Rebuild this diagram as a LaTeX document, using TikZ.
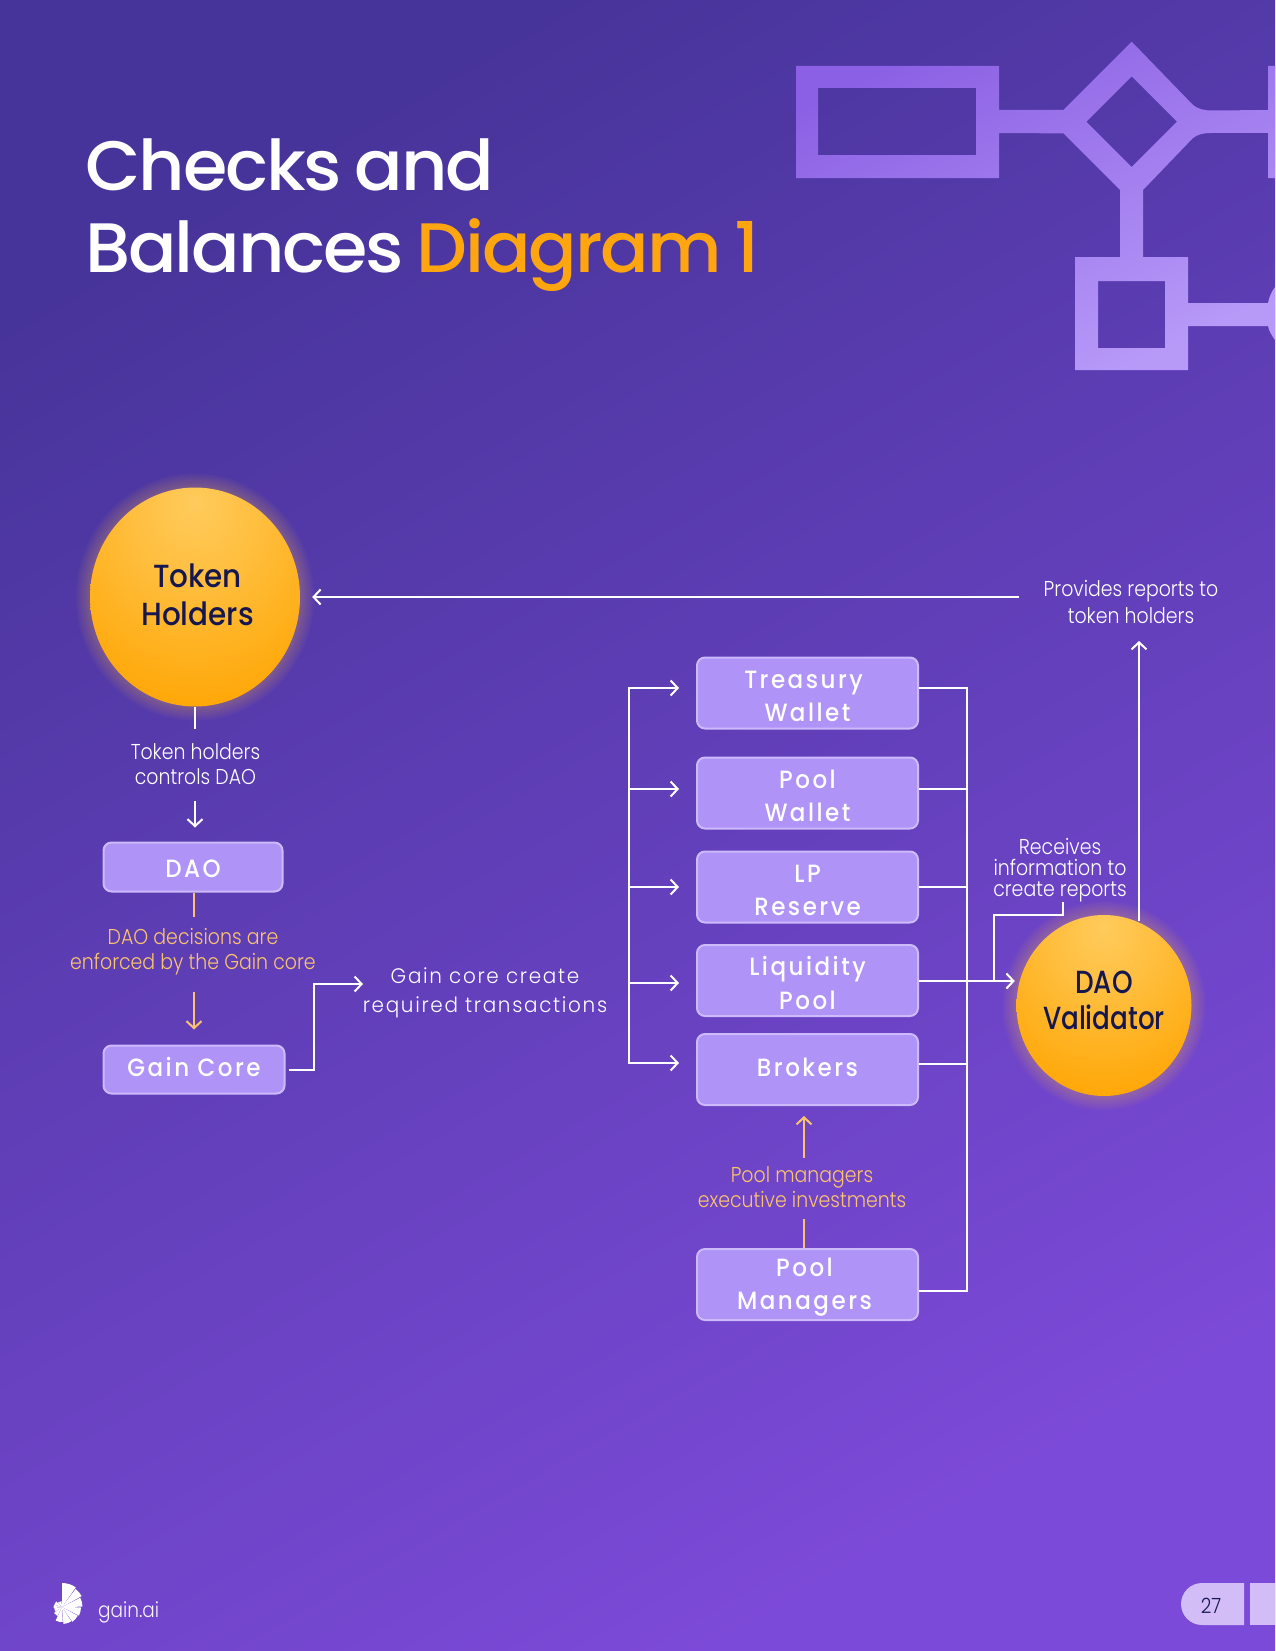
\documentclass[tikz,border=0pt]{standalone}
\usepackage{fontspec}
\usepackage{xcolor}
\usepackage{tikz}
\usetikzlibrary{calc,arrows.meta,shapes.geometric}

\setmainfont[FakeStretch=0.88]{Poppins Light}
\newfontfamily\titlefont[LetterSpace=-3,FakeStretch=1.025,WordSpace=0.75]{Poppins Medium}
\newfontfamily\boxfont[LetterSpace=10,FakeStretch=0.92]{Poppins Medium}
\newfontfamily\orbfont[FakeStretch=0.92]{Poppins Medium}
\newfontfamily\orbslim[FakeStretch=0.82]{Poppins Medium}
\newfontfamily\widefont[LetterSpace=8,FakeStretch=0.95]{Poppins Light}
\newcommand{\boxstrut}{\rule{0pt}{24pt}}

\definecolor{bgdark}{HTML}{47349A}
\definecolor{bglight}{HTML}{7C4AD8}
\definecolor{glyphdark}{HTML}{8C60E4}
\definecolor{glyphlight}{HTML}{B79AF8}
\definecolor{boxfill}{HTML}{B093F6}
\definecolor{boxedge}{HTML}{CDBAFB}
\definecolor{titleorange}{HTML}{FFA50F}
\definecolor{noteyellow}{HTML}{FBC36D}
\definecolor{orbink}{HTML}{17174F}
\definecolor{orblight}{HTML}{FFCB5C}
\definecolor{orbdeep}{HTML}{FFA400}
\definecolor{pagepill}{HTML}{D2BDF6}

\pgfdeclareradialshading{orbshade}{\pgfpoint{0bp}{22bp}}{%
  color(0bp)=(orblight); color(14bp)=(orblight!70!orbdeep);
  color(42bp)=(orbdeep); color(100bp)=(orbdeep)}

\begin{document}
\begin{tikzpicture}[x=1pt,y=-1pt,
            labeltext/.style={align=center,inner sep=0pt,text=white,
                font=\fontsize{21.5}{25}\selectfont},
            notetext/.style={labeltext,text=noteyellow},
            stepbox/.style={rectangle,draw=boxedge,line width=2pt,fill=boxfill,rounded corners=8pt,
                align=center,text=white,inner sep=0pt,font=\boxfont\fontsize{25}{33.5}\selectfont},
            orb/.style={ellipse,shading=orbshade,inner sep=0pt,align=center,text=orbink,
                font=\orbfont\fontsize{32}{38}\selectfont},
            flow/.style={draw=white,line width=2pt,>={Straight Barb[length=7pt,width=15pt,line width=2pt]}},
            noteflow/.style={flow,draw=noteyellow}]

        % page
        \useasboundingbox (0,0) rectangle (1275,1651);
        \shade [top color=bgdark, bottom color=bglight, shading angle=30] (0,0) rectangle (1275,1651);

        % flowchart motif, top right
        \shade [even odd rule, top color=glyphdark, bottom color=glyphlight, shading angle=25]
            (796,66) -- (999,66) -- (999,110) -- (1063.4,110) -- (1131.7,41.7) -- (1193,105)
            .. controls (1198,109) and (1204,110.5) .. (1212,110.5) -- (1268,110) -- (1268,66) -- (1275,66)
            -- (1275,178) -- (1268,178) -- (1268,133) -- (1212,133)
            .. controls (1204,133) and (1198,134) .. (1193,138) -- (1143,190) -- (1143,257) -- (1188,257)
            -- (1188,303) -- (1268,303) .. controls (1269,297) and (1272,291) .. (1275,287) -- (1275,340)
            .. controls (1272,336) and (1269,331) .. (1268,326) -- (1188,326) -- (1188,370) -- (1075,370)
            -- (1075,257) -- (1120,257) -- (1120,190) -- (1063.4,133.4) -- (999,133) -- (999,178) -- (796,178) -- cycle
            (818,88) rectangle (976,155)
            (1131.7,76.4) -- (1177,121.7) -- (1131.7,167) -- (1086.4,121.7) -- cycle
            (1098,281) rectangle (1165,348);

        % title
        \node [anchor=base west, inner sep=0pt, text=white, font=\titlefont\fontsize{70}{80}\selectfont] (titleA) at (85,190) {Checks and};
        \node [anchor=base west, inner sep=0pt, text=white, font=\titlefont\fontsize{70}{80}\selectfont] (titleB) at (85,272) {Balances \textcolor{titleorange}{Diagram 1}};

        % glow under the two orbs
        \foreach \g in {14,12,...,2} {
            \fill [orbdeep!70!white, opacity=0.04] (195,597) ellipse [x radius=105+\g, y radius=109.5+\g];
            \fill [orbdeep!70!white, opacity=0.04] (1104,1005.5) ellipse [x radius=87.5+\g, y radius=90.5+\g];
        }

        \node [orb, minimum width=210pt, minimum height=219pt] at (195,597) (token) {\hspace*{5pt}Token\\\hspace*{5pt}Holders\rule[-4pt]{0pt}{0pt}};
        \node [orb, minimum width=175pt, minimum height=181pt, font=\orbslim\fontsize{32}{36}\selectfont] at (1104,1005.5) (validator) {DAO\\Validator\rule[-10pt]{0pt}{0pt}};

        \node [stepbox, minimum width=179pt, minimum height=49pt] at (193,867) (dao) {\rule{0pt}{22pt}DAO};
        \node [stepbox, minimum width=181pt, minimum height=48pt] at (194,1069.5) (core) {Gain Core\rule[-6pt]{0pt}{0pt}};

        \node [stepbox, minimum width=221pt, minimum height=71pt] at (807.5,693) (treasury) {\boxstrut\hspace*{-8pt}Treasury\\Wallet};
        \node [stepbox, minimum width=221pt, minimum height=71pt] at (807.5,793) (poolwallet) {\boxstrut Pool\\Wallet};
        \node [stepbox, minimum width=221pt, minimum height=71pt] at (807.5,887) (lpreserve) {\boxstrut LP\\Reserve};
        \node [stepbox, minimum width=221pt, minimum height=71pt] at (807.5,980.5) (liquidity) {\boxstrut Liquidity\\Pool};
        \node [stepbox, minimum width=221pt, minimum height=71pt] at (807.5,1069.5) (brokers) {Brokers\rule[-4pt]{0pt}{0pt}};
        \node [stepbox, minimum width=221pt, minimum height=71pt] at (807.5,1284.5) (managers) {\boxstrut\hspace*{-6pt}Pool\\\hspace*{-6pt}Managers};

        \node [labeltext] at (195.5,764.5) (controls) {Token holders\\controls DAO};
        \node [notetext] at (193,951.5) (decisions) {DAO decisions are\\enforced by the Gain core};
        \node [labeltext, font=\widefont\fontsize{21}{29}\selectfont] at (485,992.5) (gaintext) {Gain core create\\required transactions};
        \node [labeltext, font=\fontsize{21.5}{27}\selectfont] at (1131,602) (reports) {Provides reports to\\token holders};
        \node [labeltext, font=\fontsize{21.5}{21}\selectfont] at (1060,870) (receives) {Receives\\information to\\create reports};
        \node [notetext] at (802,1187.5) (execute) {Pool managers\\executive investments};

        \coordinate (ctrlstub) at (195,729);
        \coordinate (ctrlfoot) at (195,801);
        \coordinate (decistub) at (194,917);
        \coordinate (decifoot) at (194,992);
        \coordinate (gainbend) at (314,984);
        \coordinate (gaintip) at (363,984);
        \coordinate (reportfoot) at (1019,597);
        \coordinate (spinetop) at (629,688);
        \coordinate (spineend) at (629,1063);
        \coordinate (bustop) at (967,688);
        \coordinate (busend) at (967,1291);
        \coordinate (infeed) at (967,981);
        \coordinate (recvfoot) at (993.5,981);
        \coordinate (recvstub) at (1063,915);
        \coordinate (upfoot) at (1139,921);
        \coordinate (uptip) at (1139,641);
        \coordinate (pmfoot) at (804,1158);
        \coordinate (pmstub) at (804,1219);

        \draw [flow] (token.south) -- (ctrlstub);
        \draw [flow,->,shorten >=14pt] (ctrlfoot) -- (ctrlfoot |- dao.north);
        \draw [noteflow] (dao.south -| decistub) -- (decistub);
        \draw [noteflow,->,shorten >=15pt] (decifoot) -- (decifoot |- core.north);
        \draw [flow,->,shorten <=3pt] (core.east) -| (gainbend) -- (gaintip);
        \draw [flow,->,shorten >=12pt] (reportfoot) -- (token.east);

        \draw [flow,line cap=rect] (spinetop) -- (spineend);
        \foreach \bx/\yy in {treasury/688,poolwallet/789,lpreserve/887,liquidity/983,brokers/1063} {
            \coordinate (tail) at (629,\yy);
            \draw [flow,->,shorten >=17pt] (tail) -- (tail -| \bx.west);
        }

        \draw [flow,line cap=rect] (bustop) -- (busend);
        \foreach \bx/\yy in {treasury/688,poolwallet/789,lpreserve/887,brokers/1064,managers/1291} {
            \coordinate (tail) at (967,\yy);
            \draw [flow] (tail -| \bx.east) -- (tail);
        }
        \draw [flow,->,shorten >=1.5pt] (infeed -| liquidity.east) -- (infeed -| validator.west);
        \draw [flow] (recvfoot) |- (recvstub) -- (recvstub |- receives.south);
        \draw [flow,->] (upfoot) -- (uptip);

        \draw [noteflow,->,shorten >=10pt] (pmfoot) -- (pmfoot |- brokers.south);
        \draw [noteflow] (pmstub) -- (pmstub |- managers.north);

        % logo
        \begin{scope}[shift={(62,1607)},y=1pt]
            \foreach \a/\b/\r in {90/55/24,53/29/22.5,27/1/20.5,-1/-27/19,-29/-55/18,-57/-85/17,-87/-115/15,-117/-143/10,-145/-170/8,-172/-197/8.5,-199/-225/8,-227/-265/6} {
                \fill [white] (0,0) -- (\b:\r) arc [start angle=\b, end angle=\a, radius=\r] -- cycle;
            }
        \end{scope}
        \node [anchor=base west, inner sep=0pt, text=white!90!boxfill, font=\fontsize{21}{25}\selectfont] at (98,1617) (brand) {gain.ai};

        % page number tab
        \fill [pagepill] (1244,1583) -- (1202,1583) arc [start angle=-90, end angle=-270, radius=21] -- (1244,1625) -- cycle;
        \fill [pagepill] (1250,1583) rectangle (1275,1625);
        \node [inner sep=0pt, text=orbink, font=\fontsize{21}{25}\selectfont] at (1211,1606) (pageno) {27};
\end{tikzpicture}
\end{document}
